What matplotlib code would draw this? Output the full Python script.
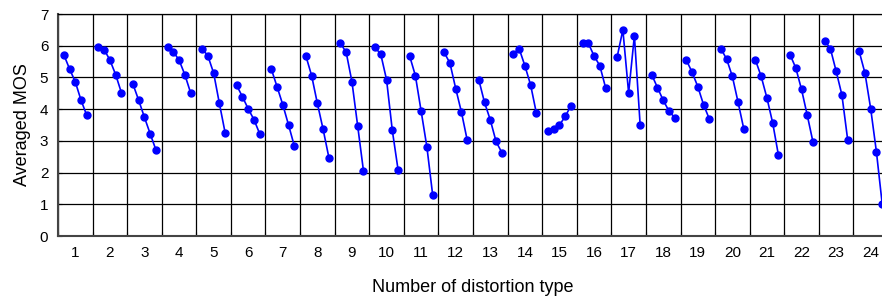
import matplotlib
matplotlib.use("Agg")
import matplotlib.pyplot as plt
import numpy as np

plt.rcParams['font.family'] = ['Liberation Sans', 'DejaVu Sans']

distortion_types = list(range(1, 25))
levels = [1, 2, 3, 4, 5]
mos = [
    [5.72, 5.27, 4.86, 4.28, 3.80],
    [5.95, 5.88, 5.55, 5.09, 4.52],
    [4.79, 4.28, 3.74, 3.22, 2.71],
    [5.95, 5.81, 5.55, 5.09, 4.52],
    [5.91, 5.68, 5.14, 4.18, 3.25],
    [4.75, 4.39, 4.01, 3.67, 3.22],
    [5.27, 4.71, 4.14, 3.50, 2.84],
    [5.68, 5.06, 4.18, 3.36, 2.47],
    [6.08, 5.79, 4.86, 3.46, 2.05],
    [5.95, 5.73, 4.93, 3.33, 2.09],
    [5.68, 5.06, 3.94, 2.81, 1.30],
    [5.79, 5.45, 4.65, 3.90, 3.02],
    [4.93, 4.21, 3.66, 2.98, 2.63],
    [5.75, 5.91, 5.37, 4.76, 3.87],
    [3.32, 3.36, 3.50, 3.77, 4.11],
    [6.08, 6.08, 5.68, 5.37, 4.68],
    [5.64, 6.50, 4.51, 6.32, 3.50],
    [5.09, 4.68, 4.28, 3.94, 3.73],
    [5.55, 5.17, 4.71, 4.14, 3.69],
    [5.91, 5.58, 5.03, 4.21, 3.36],
    [5.55, 5.03, 4.35, 3.56, 2.54],
    [5.72, 5.30, 4.62, 3.80, 2.95],
    [6.16, 5.91, 5.20, 4.45, 3.04],
    [5.82, 5.14, 4.01, 2.64, 1.00],
]

fig = plt.figure(figsize=(8.82, 2.96), dpi=100)
ax = fig.add_axes([58/882, 60/296, 830/882, 222/296])

for t, vals in zip(distortion_types, mos):
    xs = [t - 0.5 + k / 6 for k in levels]
    ax.plot(xs, vals, '-o', color='#0000ff', lw=1.2, ms=5, clip_on=False, zorder=3)

ax.set_xlim(0.5, 24.5)
ax.set_ylim(0, 7)
ax.set_xticks(np.arange(0.5, 25, 1))
ax.set_xticklabels([])
ax.set_xticks(distortion_types, minor=True)
ax.set_xticklabels([str(t) for t in distortion_types], minor=True)
ax.set_yticks(range(0, 8))
ax.tick_params(axis='x', which='minor', length=0, labelsize=11, pad=7)
ax.tick_params(axis='x', which='major', direction='in', length=3)
ax.tick_params(axis='y', direction='in', length=3, labelsize=11, pad=7)
ax.grid(True, which='major', color='black', lw=0.9)
ax.set_axisbelow(True)
for s in ['left', 'bottom']:
    ax.spines[s].set_color('#444444')
    ax.spines[s].set_linewidth(1.5)
ax.spines['top'].set_color('black')
ax.spines['top'].set_linewidth(0.9)
ax.set_ylabel('Averaged MOS', fontsize=13, labelpad=6)
ax.set_xlabel('Number of distortion type', fontsize=13, labelpad=14)

fig.savefig('out.png', dpi=100)
